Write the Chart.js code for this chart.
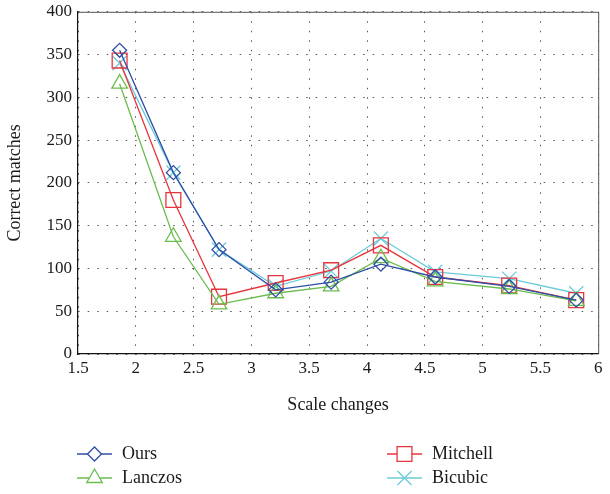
<!DOCTYPE html>
<html>
<head>
<meta charset="utf-8">
<script src="https://cdn.jsdelivr.net/npm/chart.js@4.4.0/dist/chart.umd.min.js"></script>
<style>
  html, body { margin: 0; padding: 0; background: #fff; }
  #wrap { width: 610px; height: 494px; position: relative; }
</style>
</head>
<body>
<div id="wrap"><canvas id="chart"></canvas></div>
<script>
const scaleChanges = [1.86, 2.325, 2.72, 3.21, 3.69, 4.12, 4.59, 5.23, 5.81];
const ours     = [355, 212, 122, 75, 84, 105, 90, 79, 63];
const lanczos  = [316, 137, 58, 71, 79, 112, 85, 76, 62];
const mitchell = [343, 180, 67, 83, 98, 127, 90, 80, 63];
const bicubic  = [340, 212, 122, 79, 97, 135, 96, 88, 71];
const xTicks = [1.5, 2, 2.5, 3, 3.5, 4, 4.5, 5, 5.5, 6];
const yTicks = [0, 50, 100, 150, 200, 250, 300, 350, 400];

const serif = "'Liberation Serif', 'DejaVu Serif', serif";

function series(label, values, color, style, radius) {
    return {
        label: label,
        data: values.map((v, i) => ({ x: scaleChanges[i], y: v })),
        borderColor: color,
        backgroundColor: "#fff",
        pointStyle: style,
        pointRadius: radius,
        pointBorderColor: color,
        pointBackgroundColor: "rgba(0,0,0,0)",
        pointBorderWidth: 1.3,
        borderWidth: 1.3,
        tension: 0,
    };
}

const datasets = [
    series("Ours", ours, "#2f4ea6", "rectRot", 7),
    series("Lanczos", lanczos, "#6bbd4e", "triangle", 9),
    series("Mitchell", mitchell, "#e8343c", "rect", 10.5),
    series("Bicubic", bicubic, "#6ccbd9", "crossRot", 10),
];

// frame + legend, drawn by hand to match the 2x2 layout
const extras = {
    id: "extras",
    afterDraw(chart) {
        const ctx = chart.ctx;
        const a = chart.chartArea;
        ctx.save();
        ctx.strokeStyle = "#555";
        ctx.lineWidth = 1;
        ctx.beginPath();
        ctx.moveTo(a.left, a.top + 0.5);
        ctx.lineTo(a.right + 0.5, a.top + 0.5);
        ctx.lineTo(a.right + 0.5, a.bottom);
        ctx.stroke();

        const slots = [
            [77, 454], [387, 454],
            [77, 478], [387, 478],
        ];
        const order = [0, 2, 1, 3];
        order.forEach((di, k) => {
            const ds = chart.data.datasets[di];
            const [x, y] = slots[k];
            ctx.strokeStyle = ds.borderColor;
            ctx.lineWidth = 1.3;
            ctx.beginPath();
            ctx.moveTo(x, y);
            ctx.lineTo(x + 35, y);
            ctx.stroke();
            ctx.fillStyle = "#fff";
            Chart.helpers.drawPoint(ctx, {
                pointStyle: ds.pointStyle,
                radius: ds.pointRadius,
                rotation: 0,
                borderWidth: 1.3,
            }, x + 17.5, y);
            ctx.fillStyle = "#1a1a1a";
            ctx.font = "18px " + serif;
            ctx.textBaseline = "middle";
            ctx.textAlign = "left";
            ctx.fillText(ds.label, x + 45, y);
        });
        ctx.restore();
    },
};

new Chart(document.getElementById("chart"), {
    type: "line",
    data: { datasets: datasets },
    options: {
        responsive: true,
        maintainAspectRatio: false,
        animation: false,
        layout: { padding: { top: 10, right: 5, bottom: 74, left: 0 } },
        plugins: { legend: { display: false }, tooltip: { enabled: false } },
        scales: {
            x: {
                type: "linear",
                min: 1.5,
                max: 6,
                afterBuildTicks: (s) => { s.ticks = xTicks.map((v) => ({ value: v })); },
                afterFit: (s) => { s.height = 66; s.paddingRight = 0; s.paddingLeft = 0; },
                ticks: {
                    color: "#1a1a1a",
                    font: { family: serif, size: 17 },
                    padding: 4,
                    maxRotation: 0,
                    callback: (v) => String(v),
                },
                grid: {
                    color: "#555",
                    drawTicks: false,
                },
                border: { color: "#111", width: 1.2, dash: [1.5, 8] },
                title: {
                    display: true,
                    text: "Scale changes",
                    color: "#1a1a1a",
                    font: { family: serif, size: 18 },
                    padding: { top: 6 },
                },
            },
            y: {
                min: 0,
                max: 400,
                afterBuildTicks: (s) => { s.ticks = yTicks.map((v) => ({ value: v })); },
                afterFit: (s) => { s.width = 78; s.paddingTop = 0; s.paddingBottom = 0; },
                ticks: {
                    color: "#1a1a1a",
                    font: { family: serif, size: 17 },
                    padding: 6,
                    callback: (v) => String(v),
                },
                grid: {
                    color: "#555",
                    drawTicks: false,
                },
                border: { color: "#111", width: 1.2, dash: [1.5, 8] },
                title: {
                    display: true,
                    text: "Correct matches",
                    color: "#1a1a1a",
                    font: { family: serif, size: 18 },
                    padding: { bottom: 0 },
                },
            },
        },
    },
    plugins: [extras],
});
</script>
</body>
</html>
